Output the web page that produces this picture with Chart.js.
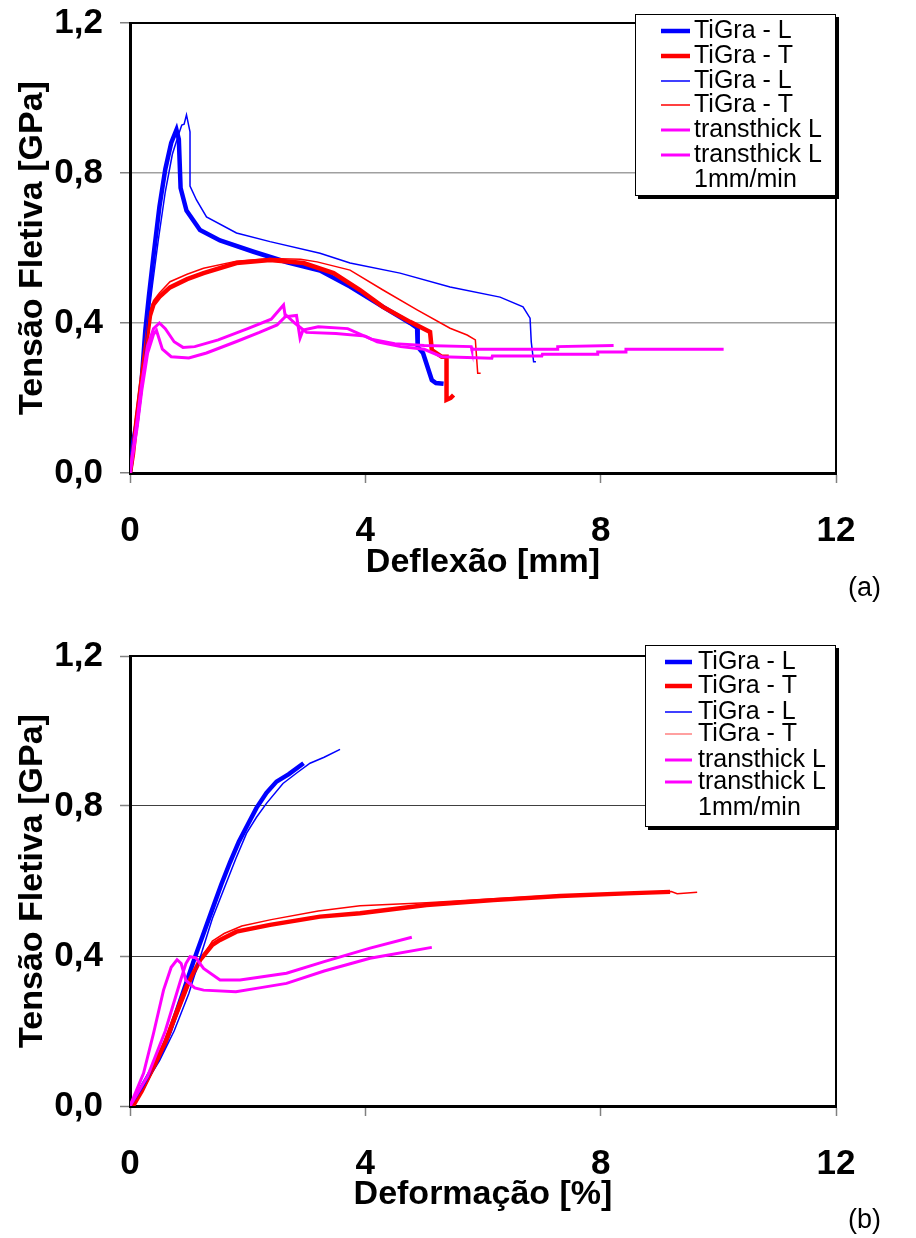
<!DOCTYPE html>
<html>
<head>
<meta charset="utf-8">
<script src="https://cdn.jsdelivr.net/npm/chart.js@4.4.1/dist/chart.umd.min.js"></script>
<style>
  body { margin: 0; background: #fff; width: 916px; height: 1238px; overflow: hidden; position: relative; font-family: "Liberation Sans", Arial, sans-serif; }
  .box { position: absolute; left: 0; width: 916px; height: 619px; }
  .tag { position: absolute; font-size: 27px; color: #000; }
</style>
</head>
<body>
<div class="box" style="top:0"><canvas id="chartA"></canvas></div>
<div class="box" style="top:619px"><canvas id="chartB"></canvas></div>
<div class="tag" style="left:848px;top:572px">(a)</div>
<div class="tag" style="left:848px;top:1204px">(b)</div>
<script>
// series labels (same for both panels)
const labels = ["TiGra - L", "TiGra - T", "TiGra - L", "TiGra - T", "transthick L", "transthick L"];
const legendNote = "1mm/min";

// y ticks / x ticks
const yTicks = [0, 0.4, 0.8, 1.2];
const xTicks = [0, 4, 8, 12];

// ---- (a) stress vs deflection [mm] ----
const deflL1_x = [0, 0.03, 0.06, 0.11, 0.2, 0.26, 0.32, 0.4, 0.5, 0.6, 0.7, 0.79, 0.83, 0.86, 0.96, 1.19, 1.53, 2.1, 2.67, 3.23, 3.74, 4.3, 4.76, 4.88, 4.89, 4.98, 5.13, 5.2, 5.33];
const deflL1_y = [0, 0.04, 0.09, 0.13, 0.25, 0.38, 0.47, 0.58, 0.71, 0.81, 0.88, 0.915, 0.89, 0.76, 0.70, 0.648, 0.62, 0.59, 0.562, 0.54, 0.497, 0.443, 0.40, 0.387, 0.336, 0.32, 0.248, 0.24, 0.238];

const deflT1_x = [0, 0.05, 0.11, 0.23, 0.34, 0.4, 0.5, 0.68, 0.97, 1.25, 1.81, 2.38, 2.95, 3.46, 3.91, 4.3, 4.76, 5.1, 5.13, 5.3, 5.38, 5.38, 5.45, 5.5];
const deflT1_y = [0, 0.05, 0.14, 0.29, 0.42, 0.45, 0.47, 0.495, 0.517, 0.533, 0.56, 0.568, 0.56, 0.533, 0.488, 0.443, 0.403, 0.376, 0.328, 0.31, 0.31, 0.195, 0.2, 0.208];

const deflL2_x = [0, 0.05, 0.12, 0.22, 0.3, 0.38, 0.48, 0.6, 0.72, 0.82, 0.88, 0.92, 0.96, 1.02, 1.02, 1.13, 1.3, 1.81, 2.38, 3.23, 3.74, 4.59, 5.44, 6.29, 6.68, 6.8, 6.82, 6.86, 6.9];
const deflL2_y = [0, 0.08, 0.13, 0.25, 0.4, 0.5, 0.62, 0.75, 0.85, 0.9, 0.928, 0.93, 0.955, 0.91, 0.765, 0.728, 0.683, 0.64, 0.617, 0.586, 0.56, 0.533, 0.496, 0.469, 0.443, 0.413, 0.35, 0.297, 0.297];

const deflT2_x = [0, 0.05, 0.12, 0.24, 0.34, 0.4, 0.5, 0.68, 0.97, 1.25, 1.81, 2.38, 2.9, 3.18, 3.74, 4.3, 4.88, 5.44, 5.73, 5.87, 5.91, 5.96];
const deflT2_y = [0, 0.05, 0.14, 0.29, 0.43, 0.46, 0.48, 0.51, 0.53, 0.546, 0.565, 0.572, 0.57, 0.563, 0.541, 0.488, 0.435, 0.386, 0.368, 0.355, 0.266, 0.266];

const deflM1_x = [0, 0.05, 0.12, 0.2, 0.3, 0.4, 0.5, 0.6, 0.75, 0.9, 1.1, 1.5, 2.0, 2.4, 2.61, 2.64, 2.83, 2.89, 2.94, 3.2, 3.7, 4.1, 4.5, 5.0, 5.8, 5.81, 7.26, 7.27, 8.22];
const deflM1_y = [0, 0.06, 0.14, 0.24, 0.34, 0.385, 0.40, 0.385, 0.35, 0.335, 0.337, 0.355, 0.385, 0.41, 0.448, 0.417, 0.42, 0.36, 0.381, 0.39, 0.385, 0.357, 0.345, 0.34, 0.337, 0.33, 0.33, 0.337, 0.34];

const deflM2_x = [0, 0.05, 0.12, 0.2, 0.3, 0.4, 0.45, 0.55, 0.7, 1.0, 1.3, 1.8, 2.2, 2.5, 2.66, 2.8, 3.0, 3.5, 4.0, 4.2, 4.6, 5.0, 5.3, 6.15, 6.16, 7.0, 7.01, 7.94, 7.95, 8.42, 8.43, 10.09];
const deflM2_y = [0, 0.05, 0.12, 0.22, 0.32, 0.37, 0.38, 0.33, 0.31, 0.307, 0.32, 0.35, 0.375, 0.395, 0.42, 0.40, 0.375, 0.372, 0.365, 0.35, 0.337, 0.33, 0.31, 0.306, 0.312, 0.312, 0.317, 0.317, 0.323, 0.323, 0.33, 0.33];

// ---- (b) stress vs strain [%] ----
const strL1_x = [0, 0.06, 0.2, 0.4, 0.55, 0.68, 0.82, 0.96, 1.1, 1.25, 1.4, 1.55, 1.7, 1.85, 2.0, 2.15, 2.32, 2.49, 2.7, 2.95];
const strL1_y = [0, 0.01, 0.05, 0.105, 0.15, 0.2, 0.265, 0.33, 0.395, 0.46, 0.525, 0.59, 0.65, 0.705, 0.75, 0.795, 0.835, 0.865, 0.885, 0.914];

const strT1_x = [0.05, 0.2, 0.4, 0.6, 0.74, 0.96, 1.19, 1.4, 1.53, 1.81, 2.38, 3.23, 3.91, 5.04, 6.18, 7.31, 8.45, 9.18];
const strT1_y = [0, 0.04, 0.105, 0.17, 0.229, 0.318, 0.389, 0.43, 0.443, 0.465, 0.483, 0.505, 0.514, 0.536, 0.549, 0.56, 0.567, 0.571];

const strL2_x = [0, 0.1, 0.3, 0.5, 0.75, 1.0, 1.2, 1.4, 1.6, 1.8, 1.98, 2.15, 2.32, 2.6, 2.85, 3.06, 3.3, 3.57];
const strL2_y = [0, 0.02, 0.07, 0.12, 0.2, 0.3, 0.4, 0.5, 0.58, 0.66, 0.727, 0.77, 0.807, 0.86, 0.89, 0.914, 0.93, 0.951];

const strT2_x = [0.05, 0.25, 0.45, 0.65, 0.8, 1.0, 1.2, 1.4, 1.6, 1.9, 2.4, 3.2, 3.91, 5.04, 6.18, 7.31, 8.45, 9.2, 9.3, 9.64];
const strT2_y = [0, 0.05, 0.11, 0.18, 0.24, 0.32, 0.39, 0.44, 0.46, 0.48, 0.497, 0.52, 0.534, 0.542, 0.553, 0.562, 0.568, 0.572, 0.566, 0.57];

const strM1_x = [0, 0.23, 0.4, 0.57, 0.7, 0.8, 0.87, 0.95, 1.1, 1.25, 1.8, 2.2, 2.66, 3.3, 4.08, 5.13];
const strM1_y = [0, 0.087, 0.194, 0.309, 0.37, 0.39, 0.38, 0.335, 0.315, 0.309, 0.305, 0.315, 0.327, 0.36, 0.394, 0.423];

const strM2_x = [0, 0.3, 0.6, 0.85, 0.95, 1.02, 1.12, 1.25, 1.53, 1.87, 2.66, 3.3, 4.08, 4.79];
const strM2_y = [0, 0.08, 0.2, 0.33, 0.38, 0.398, 0.395, 0.367, 0.336, 0.336, 0.354, 0.385, 0.421, 0.45];

const FONT = '"Liberation Sans", Arial, Helvetica, sans-serif';

function pts(xs, ys) {
  return xs.map((x, i) => ({ x: x, y: ys[i] }));
}

function fmt(v) {
  return v.toFixed(1).replace(".", ",");
}

// line styles per series: thick blue, thick red, thin blue, thin red, magenta, magenta
const colors = ["#0000ff", "#ff0000", "#0000ff", "#ff0000", "#ff00ff", "#ff00ff"];
const widths = [4.5, 4.5, 1.5, 1.5, 3, 3];

function makeDatasets(series) {
  return series.map((s, i) => ({
    label: labels[i],
    data: pts(s[0], s[1]),
    borderColor: colors[i],
    borderWidth: widths[i],
    pointRadius: 0,
    fill: false,
    tension: 0,
    order: series.length - i, // later series on top
  }));
}

// boxed legend inside the plot, with a drop shadow
const boxLegend = {
  id: "boxLegend",
  afterDraw(chart, args, o) {
    const ctx = chart.ctx;
    ctx.save();
    ctx.fillStyle = "#000";
    ctx.fillRect(o.left + 3, o.top + 3, o.right - o.left, o.bottom - o.top);
    ctx.fillStyle = "#fff";
    ctx.fillRect(o.left, o.top, o.right - o.left, o.bottom - o.top);
    ctx.strokeStyle = "#000";
    ctx.lineWidth = 1;
    ctx.strokeRect(o.left + 0.5, o.top + 0.5, o.right - o.left - 1, o.bottom - o.top - 1);
    ctx.font = "25px " + FONT;
    ctx.textBaseline = "middle";
    ctx.textAlign = "left";
    chart.data.datasets.forEach((ds, i) => {
      const y = o.rowY[i];
      ctx.strokeStyle = o.lineColors ? o.lineColors[i] : ds.borderColor;
      ctx.lineWidth = ds.borderWidth;
      ctx.beginPath();
      ctx.moveTo(o.lineX1, y);
      ctx.lineTo(o.lineX2, y);
      ctx.stroke();
      ctx.fillStyle = "#000";
      ctx.fillText(ds.label, o.textX, y);
    });
    ctx.fillText(legendNote, o.textX, o.rowY[o.rowY.length - 1]);
    ctx.restore();
  },
};

// top and right sides of the plot frame
const frame = {
  id: "frame",
  beforeDatasetsDraw(chart) {
    const { ctx, chartArea: a } = chart;
    ctx.save();
    ctx.strokeStyle = "#000";
    ctx.lineWidth = 2;
    ctx.beginPath();
    ctx.moveTo(a.left, a.top);
    ctx.lineTo(a.right, a.top);
    ctx.lineTo(a.right, a.bottom);
    ctx.stroke();
    ctx.restore();
  },
};

function makeChart(id, series, xTitle, opt) {
  const ctx = document.getElementById(id).getContext("2d");
  return new Chart(ctx, {
    type: "line",
    data: { datasets: makeDatasets(series) },
    plugins: [frame, boxLegend],
    options: {
      responsive: true,
      maintainAspectRatio: false,
      animation: false,
      layout: { padding: { top: opt.padTop, right: 80, bottom: opt.padBottom, left: 0 } },
      plugins: {
        legend: { display: false },
        tooltip: { enabled: false },
        boxLegend: opt.legend,
      },
      scales: {
        x: {
          type: "linear",
          min: 0,
          max: 12,
          afterBuildTicks: (s) => { s.ticks = xTicks.map((v) => ({ value: v })); },
          afterFit: (s) => { s.height = opt.xHeight; s.paddingLeft = 0; s.paddingRight = 0; },
          ticks: {
            autoSkip: false,
            maxRotation: 0,
            padding: 27,
            color: "#000",
            font: { family: FONT, size: 35, weight: "bold" },
          },
          grid: { drawOnChartArea: false, drawTicks: true, tickLength: 10, tickColor: "#808080", tickWidth: 1.5 },
          border: { color: "#000", width: 3 },
          title: {
            display: true,
            text: xTitle,
            color: "#000",
            padding: 0,
            font: { family: FONT, size: 34, weight: "bold" },
          },
        },
        y: {
          type: "linear",
          min: 0,
          max: 1.2,
          afterBuildTicks: (s) => { s.ticks = yTicks.map((v) => ({ value: v })); },
          afterFit: (s) => { s.width = 130; s.paddingTop = 0; s.paddingBottom = 0; },
          ticks: {
            padding: 17,
            color: "#000",
            callback: (v) => fmt(v),
            font: { family: FONT, size: 35, weight: "bold" },
          },
          grid: { color: opt.gridColor, lineWidth: opt.gridWidth, tickLength: 10, tickColor: "#808080", tickWidth: 1.5 },
          border: { color: "#000", width: 3 },
          title: {
            display: true,
            text: "Tensão Fletiva [GPa]",
            color: "#000",
            padding: { top: 12, bottom: 0 },
            font: { family: FONT, size: 34, weight: "bold" },
          },
        },
      },
    },
  });
}

makeChart(
  "chartA",
  [[deflL1_x, deflL1_y], [deflT1_x, deflT1_y], [deflL2_x, deflL2_y], [deflT2_x, deflT2_y], [deflM1_x, deflM1_y], [deflM2_x, deflM2_y]],
  "Deflexão [mm]",
  {
    padTop: 23, padBottom: 36, xHeight: 110, gridColor: "#a0a0a0", gridWidth: 1.5,
    legend: { left: 635, top: 14, right: 836, bottom: 196, lineX1: 661, lineX2: 690, textX: 694, rowY: [31, 56, 81, 105, 130, 155, 180] },
  }
);

makeChart(
  "chartB",
  [[strL1_x, strL1_y], [strT1_x, strT1_y], [strL2_x, strL2_y], [strT2_x, strT2_y], [strM1_x, strM1_y], [strM2_x, strM2_y]],
  "Deformação [%]",
  {
    padTop: 37, padBottom: 23, xHeight: 109, gridColor: "#404040", gridWidth: 1,
    legend: {
      left: 645, top: 26, right: 836, bottom: 208, lineX1: 665, lineX2: 692, textX: 698, rowY: [43, 67, 93, 115, 141, 163, 189],
      lineColors: ["#0000ff", "#ff0000", "#0000ff", "#ff8080", "#ff00ff", "#ff00ff"],
    },
  }
);
</script>
</body>
</html>
